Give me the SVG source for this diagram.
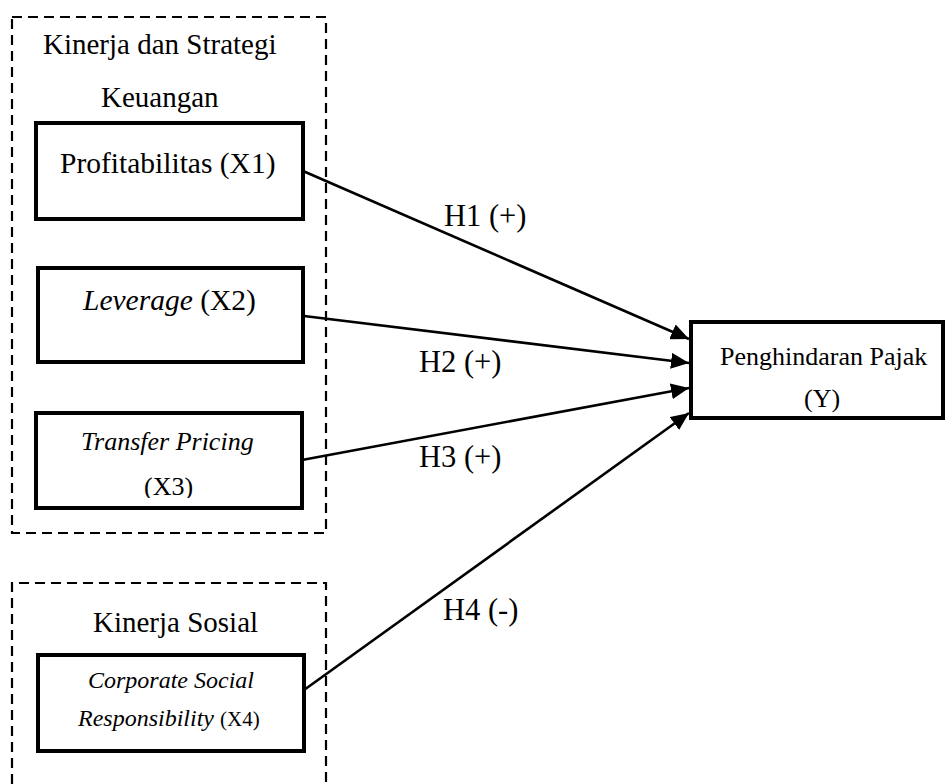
<svg xmlns="http://www.w3.org/2000/svg" width="946" height="784" viewBox="0 0 946 784">
<style>
.dash{fill:none;stroke:#000;stroke-width:2.2;stroke-dasharray:10 6}
.box{fill:#fff;stroke:#000;stroke-width:4}
.t{font-family:"Liberation Serif","Times New Roman",serif;fill:#000}
.i{font-style:italic}
.con{stroke:#000;stroke-width:2.6;fill:none;marker-end:url(#arr)}
</style>
<defs>
<marker id="arr" markerUnits="userSpaceOnUse" markerWidth="20" markerHeight="16" refX="18" refY="8" orient="auto">
<path d="M0,0 L18,8 L0,16 Z" fill="#000"/>
</marker>
<clipPath id="cx3"><rect x="30" y="400" width="280" height="98"/></clipPath>
</defs>
<rect width="946" height="784" fill="#fff"/>
<g id="group-keuangan">
<rect class="dash" x="12" y="17" width="314" height="516"/>
<text class="t" x="43" y="54" font-size="29">Kinerja dan Strategi</text>
<text class="t" x="101" y="107" font-size="29">Keuangan</text>
</g>
<g id="group-sosial">
<path class="dash" d="M12,784 V583 H326 V784"/>
<text class="t" x="93" y="632" font-size="29">Kinerja Sosial</text>
</g>
<g id="connectors">
<line class="con" x1="303" y1="171" x2="689" y2="339"/>
<line class="con" x1="304" y1="316" x2="689" y2="363"/>
<line class="con" x1="302" y1="460" x2="689" y2="388"/>
<line class="con" x1="304" y1="690" x2="689" y2="413"/>
<text class="t" x="444" y="226" font-size="30.5">H1 (+)</text>
<text class="t" x="419" y="372" font-size="30.5">H2 (+)</text>
<text class="t" x="419" y="467" font-size="30.5">H3 (+)</text>
<text class="t" x="443" y="620" font-size="30.5">H4 (-)</text>
</g>
<g id="x1">
<rect class="box" x="36" y="123" width="267" height="96"/>
<text class="t" x="60" y="173" font-size="29.5">Profitabilitas (X1)</text>
</g>
<g id="x2">
<rect class="box" x="38" y="268" width="265" height="94"/>
<text class="t" x="83" y="310" font-size="29.5"><tspan class="i">Leverage</tspan> (X2)</text>
</g>
<g id="x3">
<rect class="box" x="36" y="413" width="266" height="95"/>
<text class="t i" x="81" y="450" font-size="26">Transfer Pricing</text>
<text class="t" x="144" y="495" font-size="26" clip-path="url(#cx3)">(X3)</text>
</g>
<g id="x4">
<rect class="box" x="38" y="655" width="266" height="96"/>
<text class="t i" x="88" y="688" font-size="24">Corporate Social</text>
<text class="t" x="78" y="726" font-size="24"><tspan class="i">Responsibility</tspan> <tspan font-size="21">(X4)</tspan></text>
</g>
<g id="y">
<rect class="box" x="691" y="322" width="252" height="96"/>
<text class="t" x="720" y="365" font-size="26">Penghindaran Pajak</text>
<text class="t" x="804" y="407" font-size="26">(Y)</text>
</g>
</svg>
